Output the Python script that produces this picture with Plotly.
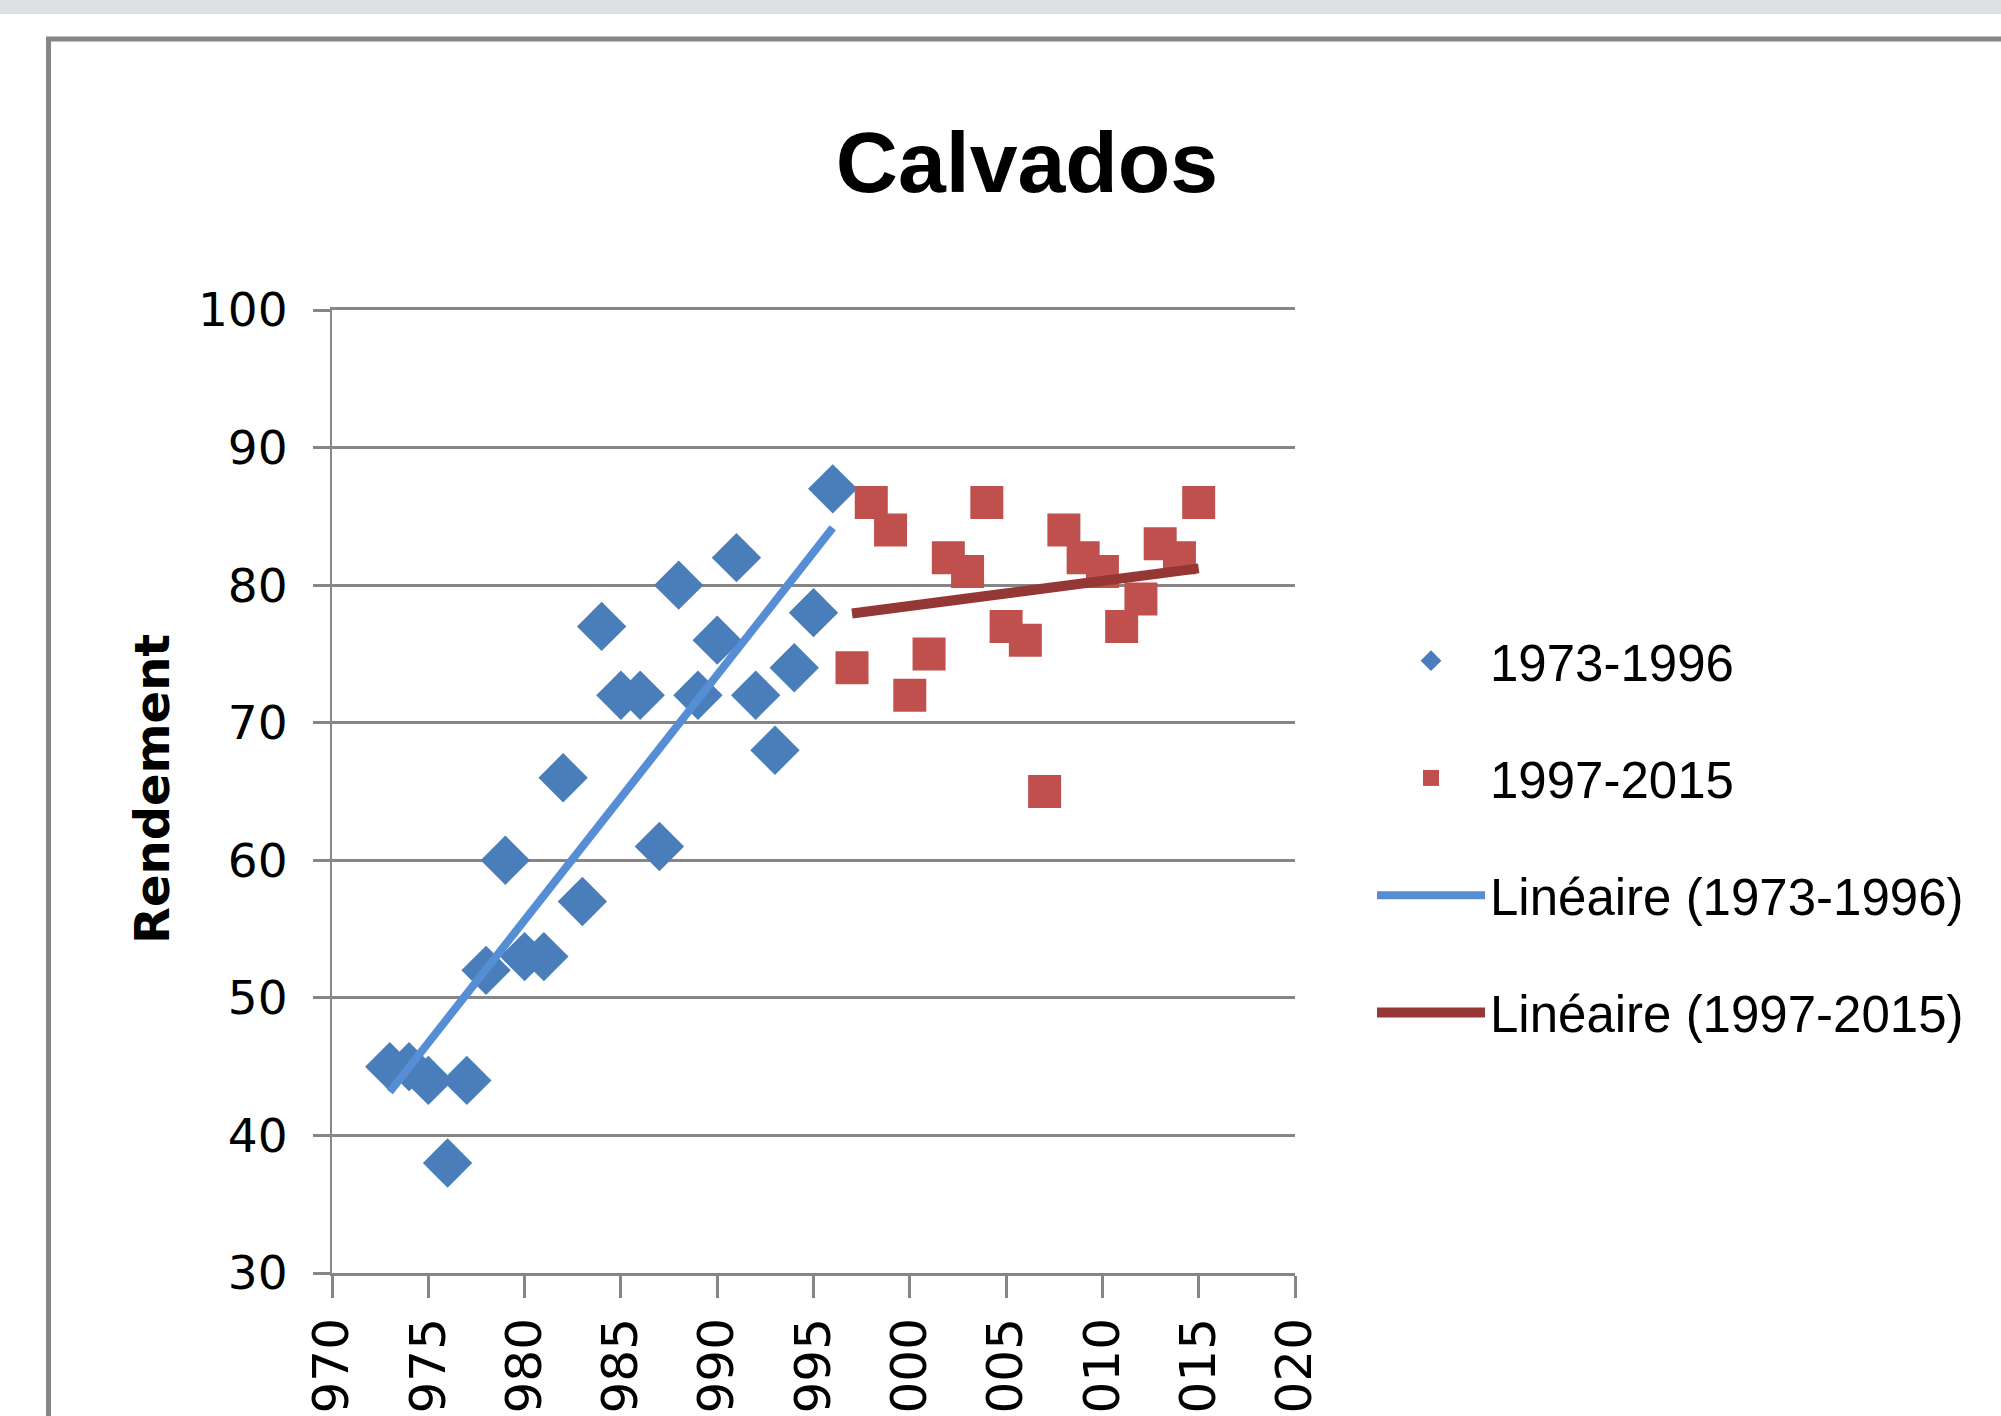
import numpy as np
import plotly.graph_objects as go

# ---------------- data ----------------
years_a = [1973, 1974, 1975, 1976, 1977, 1978, 1979, 1980, 1981, 1982, 1983, 1984,
           1985, 1986, 1987, 1988, 1989, 1990, 1991, 1992, 1993, 1994, 1995, 1996]
yield_a = [45, 45, 44, 38, 44, 52, 60, 53, 53, 66, 57, 77,
           72, 72, 61, 80, 72, 76, 82, 72, 68, 74, 78, 87]
years_b = [1997, 1998, 1999, 2000, 2001, 2002, 2003, 2004, 2005, 2006,
           2007, 2008, 2009, 2010, 2011, 2012, 2013, 2014, 2015]
yield_b = [74, 86, 84, 72, 75, 82, 81, 86, 77, 76,
           65, 84, 82, 81, 77, 79, 83, 82, 86]
name_a = "1973-1996"
name_b = "1997-2015"
title_text = "Calvados"
ytitle_text = "Rendement"

# linear trend lines (Excel "Linéaire")
ca = np.polyfit(years_a, yield_a, 1)
cb = np.polyfit(years_b, yield_b, 1)
trend_a_x = [years_a[0], years_a[-1]]
trend_a_y = list(np.polyval(ca, trend_a_x))
trend_b_x = [years_b[0], years_b[-1]]
trend_b_y = list(np.polyval(cb, trend_b_x))

# ---------------- layout geometry ----------------
W, H = 2001, 1416
ML, MR, MT, MB = 332, 706, 310, 143
PW = W - ML - MR
PH = H - MT - MB


def px(xp):
    return (xp - ML) / PW


def py(yp):
    return (H - MB - yp) / PH


GRID = "#868686"
BLUE = "#4A7EBB"
RED = "#C0504D"
BLUE_LINE = "#558ED5"
RED_LINE = "#953735"
SANS = "Liberation Sans, Arial, sans-serif"

fig = go.Figure()
fig.add_trace(go.Scatter(x=years_a, y=yield_a, mode="markers", name=name_a,
                         legendgroup="a",
                         marker=dict(symbol="diamond", size=38, color=BLUE,
                                     line=dict(width=0))))
fig.add_trace(go.Scatter(x=years_b, y=yield_b, mode="markers", name=name_b,
                         legendgroup="b",
                         marker=dict(symbol="square", size=33, color=RED,
                                     line=dict(width=0))))
fig.add_trace(go.Scatter(x=trend_a_x, y=trend_a_y, mode="lines",
                         name="Linéaire (" + name_a + ")", legendgroup="c",
                         line=dict(color=BLUE_LINE, width=8)))
fig.add_trace(go.Scatter(x=trend_b_x, y=trend_b_y, mode="lines",
                         name="Linéaire (" + name_b + ")", legendgroup="d",
                         line=dict(color=RED_LINE, width=10)))

fig.update_layout(
    width=W, height=H,
    margin=dict(l=ML, r=MR, t=MT, b=MB, autoexpand=False),
    paper_bgcolor="white", plot_bgcolor="white",
    title=dict(text="<b>" + title_text + "</b>", x=1027 / W, xanchor="center",
               y=1 - 162 / H, yanchor="middle",
               font=dict(family=SANS, size=86, color="black")),
    xaxis=dict(range=[1970, 2020], tick0=1970, dtick=5, tickangle=-90,
               showgrid=False, zeroline=False, showline=True, mirror=True,
               linecolor=GRID, linewidth=3, ticks="outside", ticklen=22,
               tickwidth=3, tickcolor=GRID, ticklabelstandoff=0,
               automargin=False,
               tickfont=dict(family="DejaVu Sans", size=50, color="black")),
    yaxis=dict(range=[30, 100], tick0=30, dtick=10, showgrid=True,
               gridcolor=GRID, gridwidth=3, zeroline=False, showline=True,
               linecolor=GRID, linewidth=2, ticks="outside", ticklen=17,
               tickwidth=3, tickcolor=GRID, ticklabelstandoff=16,
               automargin=False,
               tickfont=dict(family="DejaVu Sans", size=47, color="black")),
    legend=dict(x=px(1372), xanchor="left", y=py(621), yanchor="top",
                traceorder="grouped", tracegroupgap=48, itemwidth=108,
                bgcolor="rgba(0,0,0,0)",
                font=dict(family=SANS, size=51, color="black")),
    showlegend=True,
)

fig.add_annotation(text="<b>" + ytitle_text + "</b>", xref="paper", yref="paper",
                   x=px(152), y=py(789), textangle=-90, showarrow=False,
                   xanchor="center", yanchor="middle",
                   font=dict(family="DejaVu Sans", size=48, color="black"))

# page chrome: top grey band and chart frame
fig.add_shape(type="rect", xref="paper", yref="paper", layer="below",
              x0=px(-20), x1=px(W + 20), y0=py(14), y1=py(-20),
              fillcolor="#DFE0E2", line=dict(width=0))
fig.add_shape(type="rect", xref="paper", yref="paper", layer="below",
              x0=px(48.5), x1=px(W + 40), y0=py(H + 40), y1=py(39),
              fillcolor="rgba(0,0,0,0)", line=dict(color=GRID, width=5))

fig.write_html("out.html", config={"displayModeBar": False},
               post_script="document.body.style.margin='0px';")
